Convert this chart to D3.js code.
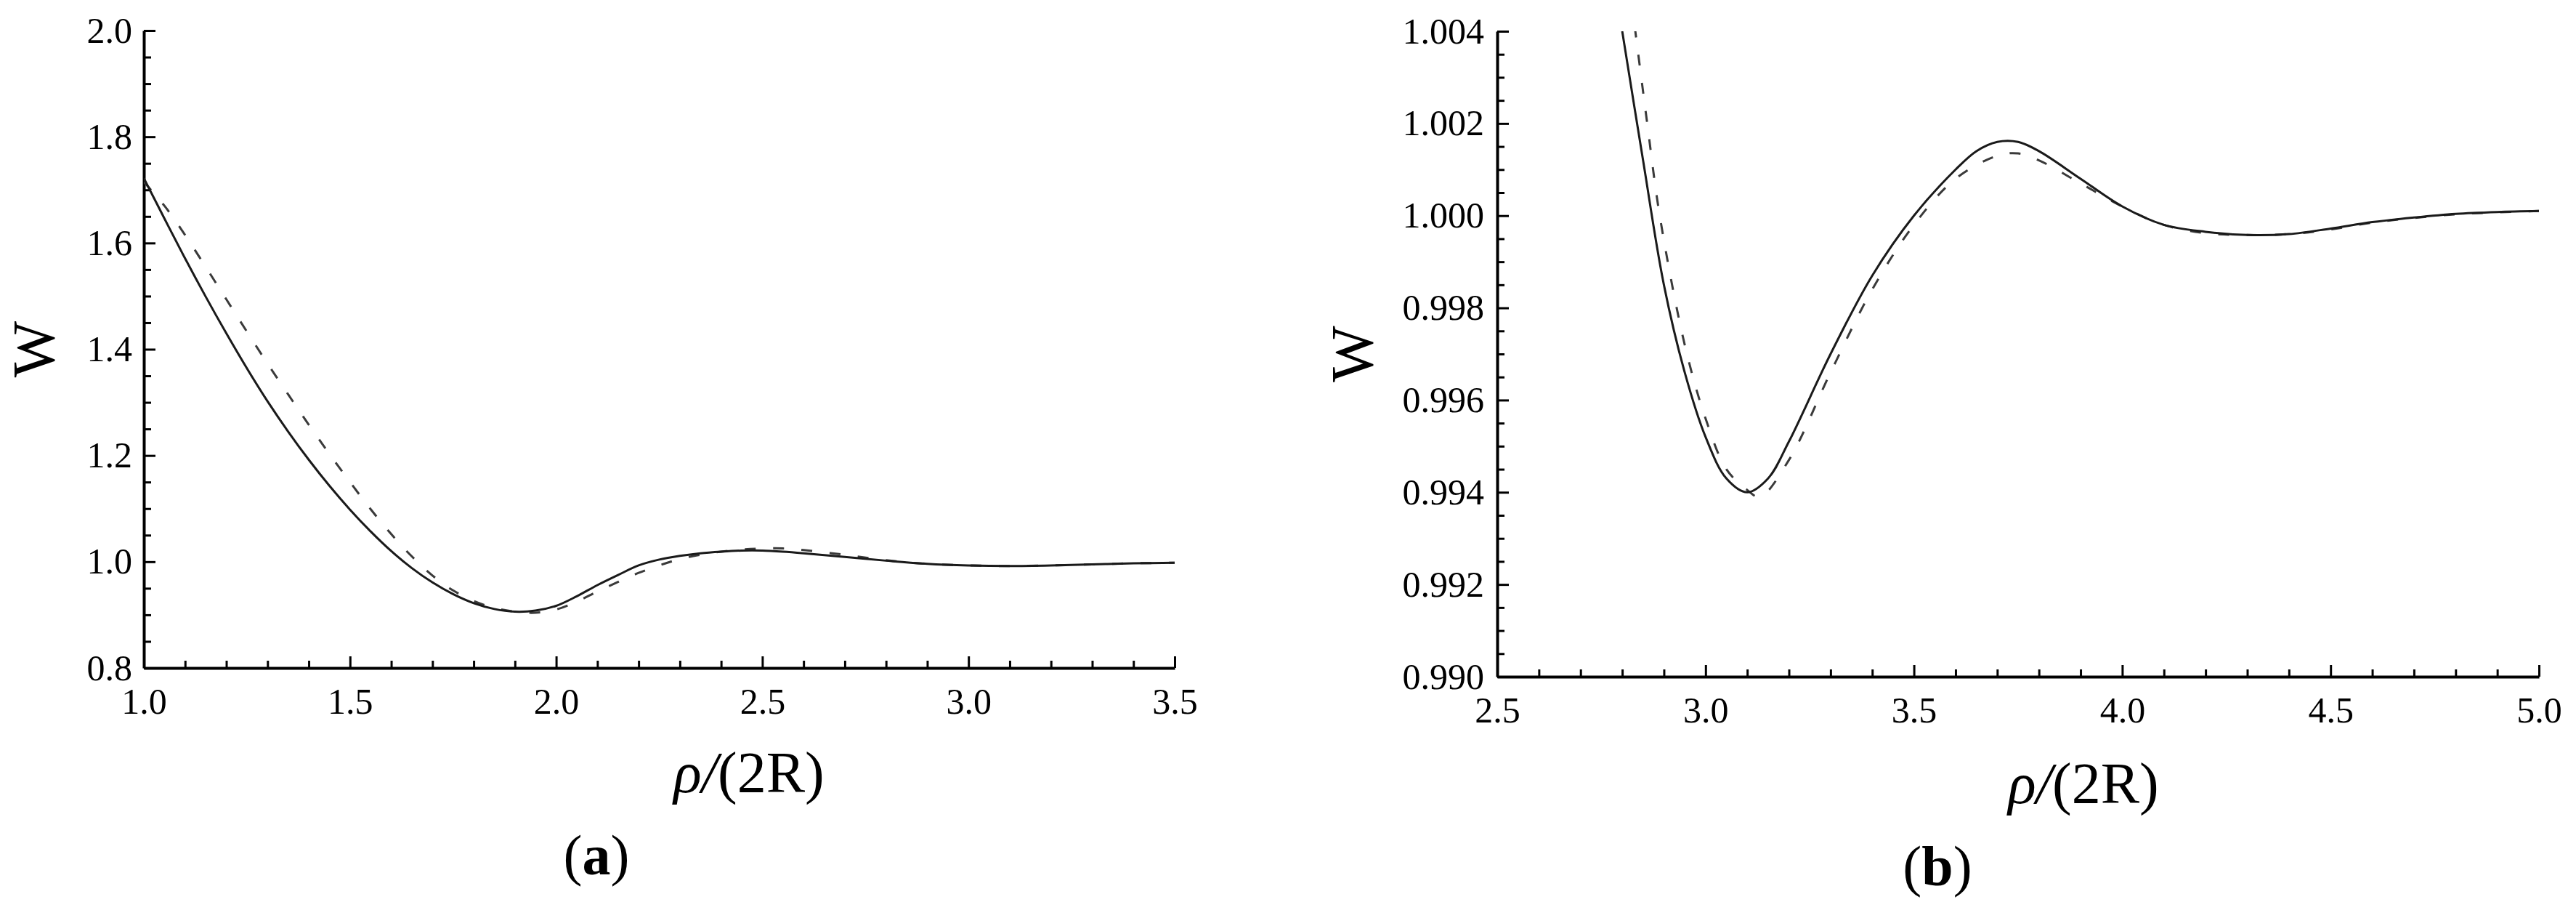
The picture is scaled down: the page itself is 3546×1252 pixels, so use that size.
<!DOCTYPE html>
<html>
<head>
<meta charset="utf-8">
<script src="https://cdn.jsdelivr.net/npm/d3@7"></script>
<style>
  body { margin: 0; background: #fff; }
  text { font-family: "Liberation Serif", "DejaVu Serif", serif; fill: #000; }
</style>
</head>
<body>
<svg id="chart" width="3546" height="1252"></svg>
<script>
// ---- data: panel (a) ----
let xA = [1.00, 1.05, 1.10, 1.15, 1.20, 1.25, 1.30, 1.35, 1.40, 1.45, 1.50, 1.55, 1.60, 1.65, 1.70, 1.75,
    1.80, 1.85, 1.90, 1.95, 2.00, 2.05, 2.10, 2.15, 2.20, 2.25, 2.30, 2.35, 2.40, 2.45, 2.50, 2.55,
    2.60, 2.70, 2.80, 2.90, 3.00, 3.10, 3.20, 3.30, 3.40, 3.50];
let solidA = [1.722, 1.646, 1.571, 1.499, 1.430, 1.364, 1.302, 1.245, 1.192, 1.143, 1.098, 1.057, 1.020, 0.988, 0.961, 0.939,
    0.922, 0.911, 0.906, 0.908, 0.917, 0.935, 0.956, 0.975, 0.993, 1.004, 1.011, 1.016, 1.019, 1.021, 1.021, 1.019,
    1.016, 1.009, 1.002, 0.996, 0.993, 0.992, 0.993, 0.995, 0.997, 0.998];
let dashedA = [1.715, 1.670, 1.615, 1.555, 1.494, 1.433, 1.373, 1.315, 1.258, 1.203, 1.150, 1.099, 1.052, 1.010, 0.974, 0.946,
    0.926, 0.913, 0.906, 0.904, 0.910, 0.925, 0.944, 0.962, 0.979, 0.993, 1.005, 1.013, 1.019, 1.023, 1.025, 1.025,
    1.022, 1.013, 1.003, 0.996, 0.993, 0.992, 0.993, 0.995, 0.997, 0.998];
let xTicksA = [1.0, 1.5, 2.0, 2.5, 3.0, 3.5];
let yTicksA = [0.8, 1.0, 1.2, 1.4, 1.6, 1.8, 2.0];

// ---- data: panel (b) ----
let xSolidB = [2.80, 2.85, 2.90, 2.95, 3.00, 3.05, 3.10, 3.15, 3.20, 3.30, 3.40, 3.50, 3.60, 3.65, 3.70, 3.75, 3.80, 3.90,
    4.00, 4.10, 4.20, 4.30, 4.40, 4.50, 4.60, 4.70, 4.80, 4.90, 5.00];
let solidB = [1.0040, 1.0012, 0.9985, 0.9966, 0.9952, 0.9943, 0.9940, 0.9943, 0.9951, 0.9970, 0.9987, 1.0000, 1.0010, 1.0014, 1.0016, 1.0016, 1.0014, 1.0008,
    1.0002, 0.9998, 0.99965, 0.99958, 0.9996, 0.99972, 0.99986, 0.99996, 1.00004, 1.00008, 1.0001];
let xDashedB = [2.83, 2.86, 2.89, 2.95, 3.00, 3.05, 3.10, 3.13, 3.20, 3.30, 3.40, 3.50, 3.60, 3.70, 3.75, 3.80, 3.90,
    4.00, 4.10, 4.20, 4.30, 4.40, 4.50, 4.60, 4.70, 4.80, 4.90, 5.00];
let dashedB = [1.0041, 1.0020, 1.0000, 0.9972, 0.9956, 0.9945, 0.99405, 0.9939, 0.9947, 0.9966, 0.9984, 0.9998, 1.0008, 1.0013, 1.00135, 1.0012, 1.0007,
    1.0002, 0.9998, 0.99962, 0.99958, 0.9996, 0.9997, 0.99985, 0.99995, 1.00003, 1.00007, 1.0001];
let xTicksB = [2.5, 3.0, 3.5, 4.0, 4.5, 5.0];
let yTicksB = [0.990, 0.992, 0.994, 0.996, 0.998, 1.000, 1.002, 1.004];

let svg = d3.select('#chart');

function drawPanel(cfg) {
    let g = svg.append('g');

    let xScale = d3.scaleLinear().domain(cfg.xDomain).range([cfg.left, cfg.right]);
    let yScale = d3.scaleLinear().domain(cfg.yDomain).range([cfg.bottom, cfg.top]);

    //clip
    g.append('clipPath').attr('id', 'clip-' + cfg.id)
        .append('rect')
        .attr('x', cfg.left).attr('y', cfg.top)
        .attr('width', cfg.right - cfg.left).attr('height', cfg.bottom - cfg.top);

    //minor ticks
    g.append('g')
        .attr('transform', 'translate(0,' + cfg.bottom + ')')
        .call(d3.axisBottom(xScale).tickValues(cfg.xMinor).tickSize(-10).tickSizeOuter(0).tickFormat(''))
        .call(a => a.select('.domain').remove());
    g.append('g')
        .attr('transform', 'translate(' + cfg.left + ',0)')
        .call(d3.axisLeft(yScale).tickValues(cfg.yMinor).tickSize(-10).tickSizeOuter(0).tickFormat(''))
        .call(a => a.select('.domain').remove());

    //x-axis
    let xAxis = g.append('g')
        .attr('transform', 'translate(0,' + cfg.bottom + ')')
        .call(d3.axisBottom(xScale).tickValues(cfg.xTicks).tickSize(-16).tickSizeOuter(0)
            .tickPadding(cfg.xPad).tickFormat(d3.format('.1f')));
    xAxis.selectAll('text').attr('dy', '0.71em');

    //y-axis
    g.append('g')
        .attr('transform', 'translate(' + cfg.left + ',0)')
        .call(d3.axisLeft(yScale).tickValues(cfg.yTicks).tickSize(-16).tickSizeOuter(0)
            .tickPadding(cfg.yPad).tickFormat(d3.format(cfg.yFmt)));

    g.selectAll('.tick line').attr('stroke', '#000').attr('stroke-width', 3);
    g.selectAll('.domain').attr('stroke', '#000').attr('stroke-width', 4);
    g.selectAll('.tick text')
        .attr('font-family', '"Liberation Serif", serif')
        .style('font-family', '"Liberation Serif", serif')
        .style('font-size', '50px')
        .attr('fill', '#000');

    let line = d3.line()
        .x(d => xScale(d[0]))
        .y(d => yScale(d[1]))
        .curve(d3.curveCatmullRom.alpha(0.5));

    let curves = g.append('g').attr('clip-path', 'url(#clip-' + cfg.id + ')');
    curves.append('path')
        .datum(d3.zip(cfg.dashedX, cfg.dashed))
        .attr('d', line)
        .attr('fill', 'none')
        .attr('stroke', '#3a3a3a')
        .attr('stroke-width', 3)
        .attr('stroke-dasharray', '15,24');
    curves.append('path')
        .datum(d3.zip(cfg.solidX, cfg.solid))
        .attr('d', line)
        .attr('fill', 'none')
        .attr('stroke', '#1a1a1a')
        .attr('stroke-width', 3);

    //y title
    g.append('text')
        .attr('transform', 'translate(' + cfg.wX + ',' + ((cfg.top + cfg.bottom) / 2) + ') rotate(-90)')
        .attr('text-anchor', 'middle')
        .attr('dy', '0.33em')
        .style('font-size', '82px')
        .text('W');

    //x title
    let xt = g.append('text')
        .attr('x', cfg.titleX)
        .attr('y', cfg.titleY)
        .attr('text-anchor', 'middle')
        .style('font-size', '80px');
    xt.append('tspan').style('font-style', 'italic').text('ρ/');
    xt.append('tspan').text('(2R)');

    //panel label
    let pl = g.append('text')
        .attr('x', cfg.labelX)
        .attr('y', cfg.labelY)
        .attr('text-anchor', 'middle')
        .style('font-size', '78px');
    pl.append('tspan').text('(');
    pl.append('tspan').style('font-weight', 'bold').text(cfg.label);
    pl.append('tspan').text(')');
}

drawPanel({
    id: 'a', left: 198, right: 1617, top: 42, bottom: 919,
    xDomain: [1.0, 3.5], yDomain: [0.8, 2.0],
    xTicks: xTicksA, yTicks: yTicksA,
    xMinor: d3.range(1.1, 3.45, 0.1).filter(v => Math.abs(v * 2 - Math.round(v * 2)) > 0.01),
    yMinor: d3.range(0.85, 2.0, 0.05).filter(v => Math.abs(v * 5 - Math.round(v * 5)) > 0.01),
    yFmt: '.1f', xPad: 27, yPad: 16,
    solidX: xA, solid: solidA, dashedX: xA, dashed: dashedA,
    wX: 47, titleX: 1031, titleY: 1090, labelX: 821, labelY: 1203, label: 'a'
});

drawPanel({
    id: 'b', left: 2061, right: 3495, top: 43, bottom: 931,
    xDomain: [2.5, 5.0], yDomain: [0.990, 1.004],
    xTicks: xTicksB, yTicks: yTicksB,
    xMinor: d3.range(2.6, 4.95, 0.1).filter(v => Math.abs(v * 2 - Math.round(v * 2)) > 0.01),
    yMinor: d3.range(0.9905, 1.004, 0.0005).filter(v => Math.abs(v * 500 - Math.round(v * 500)) > 0.01),
    yFmt: '.3f', xPad: 27, yPad: 18,
    solidX: xSolidB, solid: solidB, dashedX: xDashedB, dashed: dashedB,
    wX: 1862, titleX: 2868, titleY: 1105, labelX: 2667, labelY: 1218, label: 'b'
});
</script>
</body>
</html>
